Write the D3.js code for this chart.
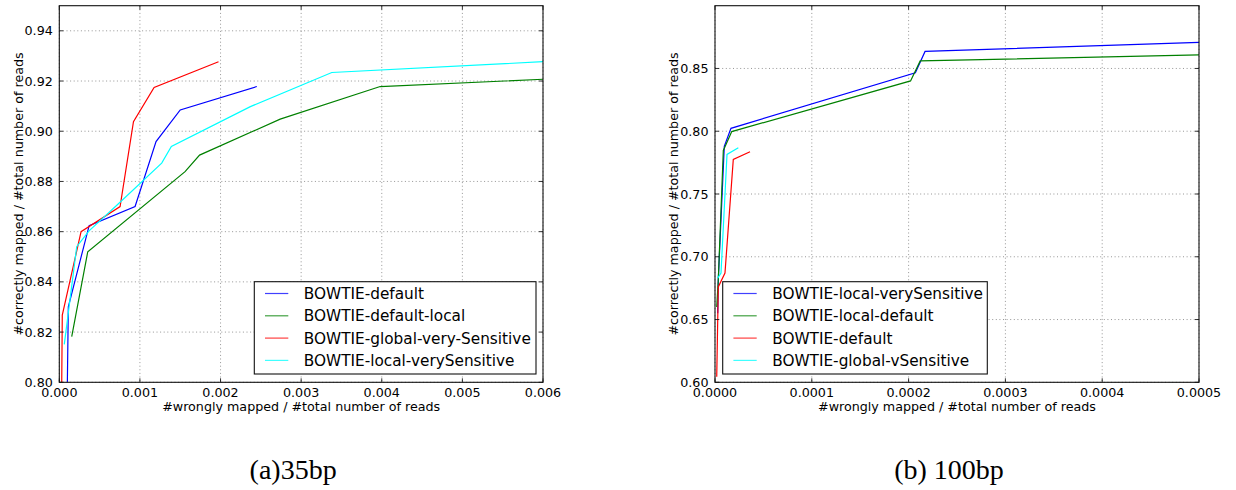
<!DOCTYPE html>
<html>
<head>
<meta charset="utf-8">
<script src="https://cdn.jsdelivr.net/npm/d3@7"></script>
<style>
body { margin: 0; background: #fff; }
svg { display: block; }
</style>
</head>
<body>
<div id="chart"></div>
<script>
// (a) 35bp
var a_xTicks = [0.000, 0.001, 0.002, 0.003, 0.004, 0.005, 0.006];
var a_yTicks = [0.80, 0.82, 0.84, 0.86, 0.88, 0.90, 0.92, 0.94];
var a_names = ["BOWTIE-default", "BOWTIE-default-local", "BOWTIE-global-very-Sensitive", "BOWTIE-local-verySensitive"];
var a_default_x = [0.0001, 0.000112, 0.00037, 0.00094, 0.0012, 0.0015, 0.00245];
var a_default_y = [0.800, 0.8301, 0.8624, 0.870, 0.8959, 0.9085, 0.9178];
var a_defaultLocal_x = [0.000154, 0.000353, 0.00156, 0.00174, 0.00274, 0.00398, 0.006];
var a_defaultLocal_y = [0.8182, 0.852, 0.8839, 0.8905, 0.9048, 0.9178, 0.9207];
var a_globalVS_x = [0.00003, 0.000037, 0.00027, 0.000754, 0.00092, 0.001176, 0.001975];
var a_globalVS_y = [0.7996, 0.8268, 0.860, 0.870, 0.9038, 0.9174, 0.9277];
var a_localVS_x = [0.000062, 0.000216, 0.000369, 0.00073, 0.00127, 0.00139, 0.00237, 0.00338, 0.006];
var a_localVS_y = [0.8151, 0.854, 0.8603, 0.871, 0.8873, 0.8939, 0.9098, 0.9234, 0.9277];

// (b) 100bp
var b_xTicks = [0.0000, 0.0001, 0.0002, 0.0003, 0.0004, 0.0005];
var b_yTicks = [0.60, 0.65, 0.70, 0.75, 0.80, 0.85];
var b_names = ["BOWTIE-local-verySensitive", "BOWTIE-local-default", "BOWTIE-default", "BOWTIE-global-vSensitive"];
var b_localVS_x = [0.0000028, 0.0000034, 0.0000096, 0.0000165, 0.000207, 0.000217, 0.0005];
var b_localVS_y = [0.655, 0.6817, 0.788, 0.8023, 0.8466, 0.8636, 0.8708];
var b_localDefault_x = [0.0000018, 0.0000034, 0.0000086, 0.0000173, 0.000202, 0.000212, 0.0005];
var b_localDefault_y = [0.660, 0.6817, 0.7847, 0.7997, 0.8401, 0.856, 0.8609];
var b_default_x = [0.0000018, 0.0000034, 0.0000103, 0.0000189, 0.0000362];
var b_default_y = [0.6045, 0.676, 0.687, 0.7776, 0.7837];
var b_globalVS_x = [0.0000028, 0.0000062, 0.0000124, 0.0000241];
var b_globalVS_y = [0.683, 0.687, 0.7815, 0.7869];

var colors = ["#0000ff", "#008000", "#ff0000", "#00ffff"];

function zip(xs, ys) {
	return xs.map(function(x, i) { return {x: x, y: ys[i]}; });
}

var width = 1236, height = 490;
var svg = d3.select("#chart").append("svg")
	.attr("width", width)
	.attr("height", height);

function panel(opt) {
	var g = svg.append("g").attr("transform", "translate(" + opt.left + "," + opt.top + ")");
	var w = opt.w, h = opt.h;

	var x = d3.scaleLinear().domain(opt.xDomain).range([0, w]);
	var y = d3.scaleLinear().domain(opt.yDomain).range([h, 0]);

	// grid
	g.append("g").selectAll("line")
		.data(opt.xTicks).enter().append("line")
		.attr("x1", function(d) { return x(d); })
		.attr("x2", function(d) { return x(d); })
		.attr("y1", 0).attr("y2", h)
		.attr("stroke", "#8a8a8a").attr("stroke-width", 0.9)
		.attr("stroke-dasharray", "1,2.6");
	g.append("g").selectAll("line")
		.data(opt.yTicks).enter().append("line")
		.attr("y1", function(d) { return y(d); })
		.attr("y2", function(d) { return y(d); })
		.attr("x1", 0).attr("x2", w)
		.attr("stroke", "#8a8a8a").attr("stroke-width", 0.9)
		.attr("stroke-dasharray", "1,2.6");

	// lines
	var clipId = "clip" + opt.id;
	g.append("clipPath").attr("id", clipId)
		.append("rect").attr("width", w).attr("height", h);
	var line = d3.line()
		.x(function(d) { return x(d.x); })
		.y(function(d) { return y(d.y); });
	var lines = g.append("g").attr("clip-path", "url(#" + clipId + ")");
	opt.series.forEach(function(s, i) {
		lines.append("path")
			.datum(s)
			.attr("d", line)
			.attr("fill", "none")
			.attr("stroke", colors[i])
			.attr("stroke-width", 1.2);
	});

	// ticks (inward, all sides)
	var tk = 4;
	var ticks = g.append("g").attr("stroke", "#000").attr("stroke-width", 0.8);
	opt.xTicks.forEach(function(d) {
		ticks.append("line").attr("x1", x(d)).attr("x2", x(d)).attr("y1", h).attr("y2", h - tk);
		ticks.append("line").attr("x1", x(d)).attr("x2", x(d)).attr("y1", 0).attr("y2", tk);
	});
	opt.yTicks.forEach(function(d) {
		ticks.append("line").attr("y1", y(d)).attr("y2", y(d)).attr("x1", 0).attr("x2", tk);
		ticks.append("line").attr("y1", y(d)).attr("y2", y(d)).attr("x1", w).attr("x2", w - tk);
	});

	// frame
	g.append("rect")
		.attr("width", w).attr("height", h)
		.attr("fill", "none").attr("stroke", "#111").attr("stroke-width", 1.1);

	// tick labels
	g.append("g").selectAll("text")
		.data(opt.xTicks).enter().append("text")
		.attr("x", function(d) { return x(d); })
		.attr("y", h + 14.8)
		.attr("text-anchor", "middle")
		.style("font-family", "DejaVu Sans")
		.style("font-size", "12.7px")
		.text(function(d) { return d3.format(opt.xFormat)(d); });
	g.append("g").selectAll("text")
		.data(opt.yTicks).enter().append("text")
		.attr("x", -6.5)
		.attr("y", function(d) { return y(d); })
		.attr("dy", "0.36em")
		.attr("text-anchor", "end")
		.style("font-family", "DejaVu Sans")
		.style("font-size", "12.7px")
		.text(function(d) { return d3.format(".2f")(d); });

	// axis labels
	g.append("text")
		.attr("x", w / 2)
		.attr("y", h + 28.8)
		.attr("text-anchor", "middle")
		.style("font-family", "DejaVu Sans")
		.style("font-size", "12.7px")
		.text("#wrongly mapped / #total number of reads");
	g.append("text")
		.attr("transform", "rotate(-90)")
		.attr("x", -h / 2)
		.attr("y", opt.yLabelX)
		.attr("text-anchor", "middle")
		.style("font-family", "DejaVu Sans")
		.style("font-size", "12.7px")
		.text("#correctly mapped / #total number of reads");

	// legend
	var lg = g.append("g").attr("transform", "translate(" + opt.legX + "," + opt.legY + ")");
	lg.append("rect")
		.attr("width", opt.legW).attr("height", 92.3)
		.attr("fill", "#fff").attr("stroke", "#111").attr("stroke-width", 1.1);
	opt.names.forEach(function(n, i) {
		var ly = 11.8 + i * 22.3;
		lg.append("line")
			.attr("x1", 10.7).attr("x2", 34)
			.attr("y1", ly).attr("y2", ly)
			.attr("stroke", colors[i]).attr("stroke-width", 1.2)
			.attr("stroke-opacity", 0.75);
		lg.append("text")
			.attr("x", 49.5)
			.attr("y", ly)
			.attr("dy", "0.36em")
			.style("font-family", "DejaVu Sans")
			.style("font-size", "15.3px")
			.text(n);
	});

	// caption
	svg.append("text")
		.attr("x", opt.left + w / 2 - 8)
		.attr("y", 479)
		.attr("text-anchor", "middle")
		.style("font-family", "Liberation Serif")
		.style("font-size", "28px")
		.text(opt.caption);
}

panel({
	id: "a", left: 59.3, top: 5.7, w: 483.7, h: 376.6,
	xDomain: [0, 0.006], yDomain: [0.80, 0.95],
	xTicks: a_xTicks, yTicks: a_yTicks, xFormat: ".3f",
	series: [zip(a_default_x, a_default_y), zip(a_defaultLocal_x, a_defaultLocal_y),
		zip(a_globalVS_x, a_globalVS_y), zip(a_localVS_x, a_localVS_y)],
	names: a_names,
	legX: 195, legY: 276, legW: 281.7,
	yLabelX: -36,
	caption: "(a)35bp"
});

panel({
	id: "b", left: 715, top: 5.7, w: 484, h: 376.6,
	xDomain: [0, 0.0005], yDomain: [0.60, 0.90],
	xTicks: b_xTicks, yTicks: b_yTicks, xFormat: ".4f",
	series: [zip(b_localVS_x, b_localVS_y), zip(b_localDefault_x, b_localDefault_y),
		zip(b_default_x, b_default_y), zip(b_globalVS_x, b_globalVS_y)],
	names: b_names,
	legX: 7.7, legY: 276, legW: 264.6,
	yLabelX: -37,
	caption: "(b) 100bp"
});
</script>
</body>
</html>
